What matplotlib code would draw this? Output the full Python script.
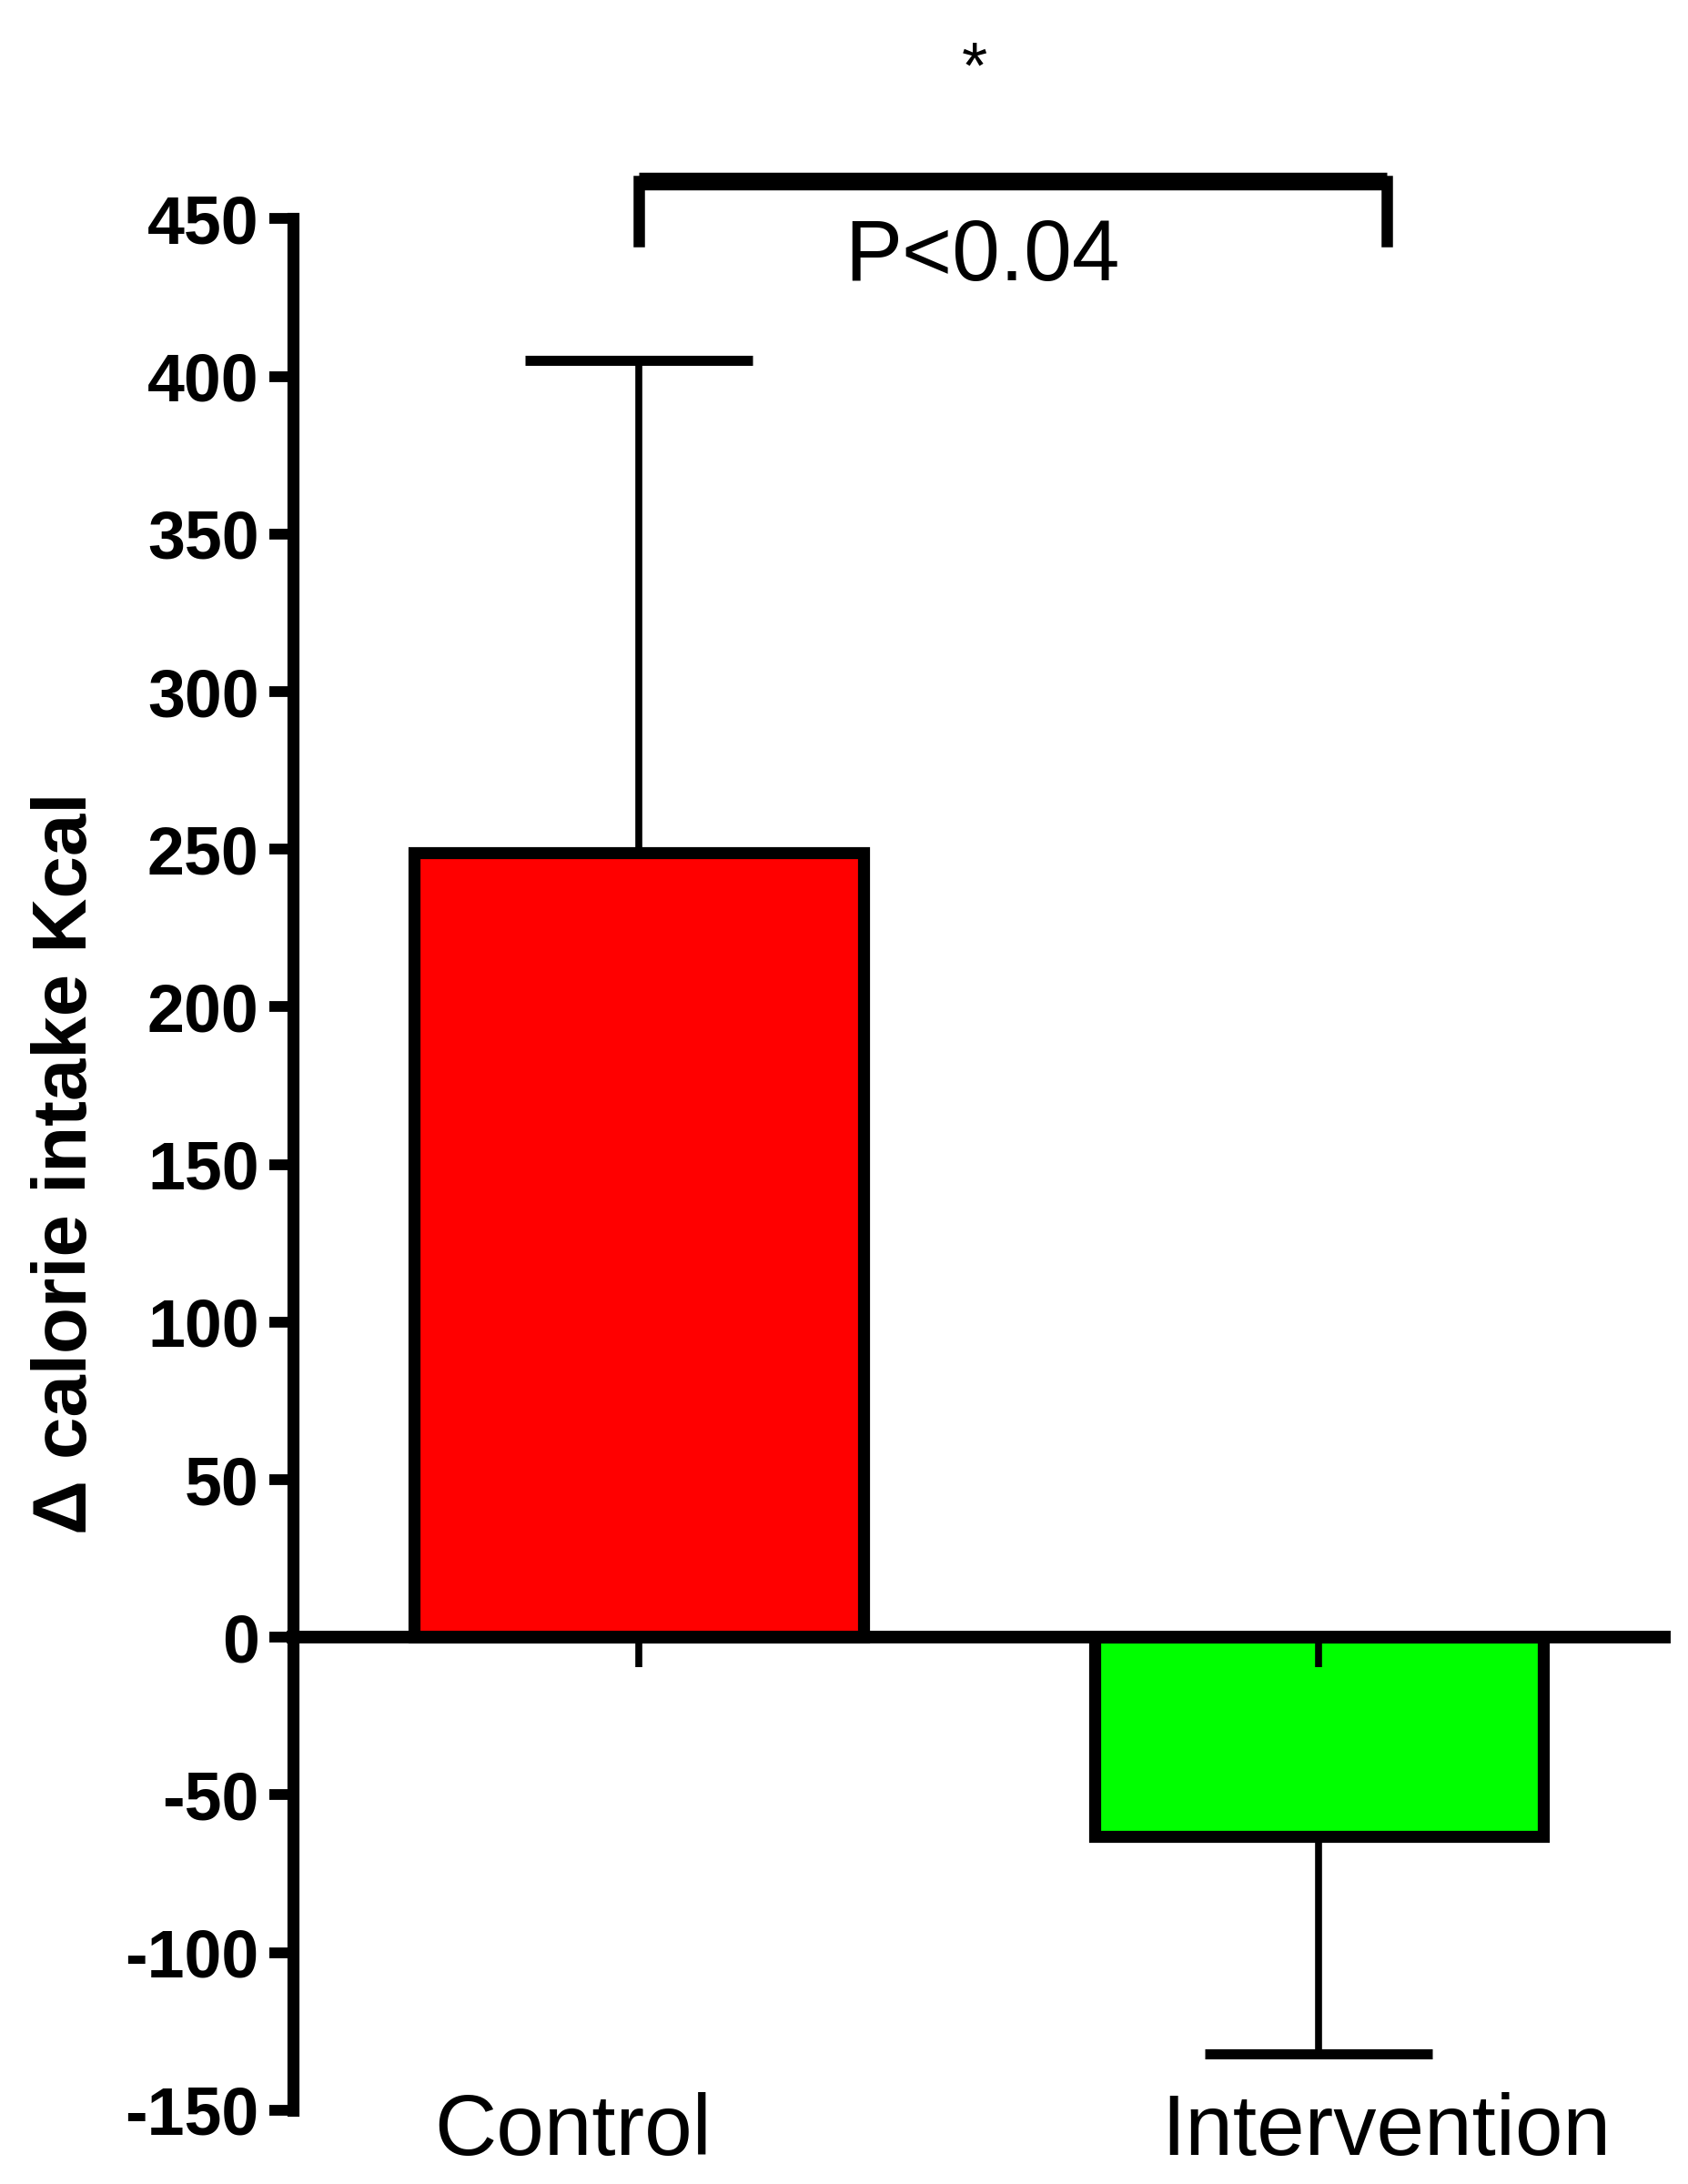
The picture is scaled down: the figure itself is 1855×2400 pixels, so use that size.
import numpy as np
import matplotlib
matplotlib.use("Agg")
import matplotlib.pyplot as plt
import matplotlib.transforms as mtransforms

plt.rcParams['font.family'] = ['Liberation Sans', 'DejaVu Sans']
plt.rcParams['axes.unicode_minus'] = False

groups = ["Control", "Intervention"]
means = [249, -63]
err_up = [156, 0]
err_down = [0, 69]
colors = ["#FF0000", "#00FF00"]
yticks = [-150, -100, -50, 0, 50, 100, 150, 200, 250, 300, 350, 400, 450]
ylabel = "\u0394 calorie intake Kcal"
p_text = "P<0.04"
star = "*"

fig = plt.figure(figsize = (18.55, 24), dpi = 100)
ax = fig.add_axes([0.1736, 0.0338, 0.8125, 0.866])

x = np.arange(len(groups))

# error bars first so the bar covers the inner part
ax.errorbar(x, means, yerr = [err_down, err_up], fmt = 'none', ecolor = 'black',
            elinewidth = 5.5, capsize = 90, capthick = 8, zorder = 1.0)
ax.bar(x, means, width = 0.66, color = colors, edgecolor = 'black', linewidth = 9.5, zorder = 1.1)

ax.set_xlim(-0.508, 1.508)
ax.set_ylim(-150, 450)

ax.spines['top'].set_visible(False)
ax.spines['right'].set_visible(False)
ax.spines['bottom'].set_position(('data', 0))
ax.spines['bottom'].set_linewidth(10)
ax.spines['bottom'].set_zorder(3)
ax.spines['left'].set_linewidth(9.5)

ax.set_yticks(yticks)
ax.set_yticklabels([str(v) for v in yticks], fontsize = 53, fontweight = 'bold')
ax.tick_params(axis = 'y', length = 19, width = 8.5, pad = 8)
ax.set_xticks(x)
ax.set_xticklabels(["", ""])
ax.tick_params(axis = 'x', length = 24, width = 5.5, direction = 'out')
ax.xaxis.set_zorder(2.6)

# category labels below the axes
trans = mtransforms.blended_transform_factory(ax.transData, ax.transAxes)
label_x = [-0.097, 1.099]
for lx, g in zip(label_x, groups):
    ax.text(lx, -0.012, g, transform = trans, ha = 'center', va = 'center', fontsize = 68)

fig.text(73 / 1855, 1 - 1278 / 2400, ylabel, rotation = 90, ha = 'center', va = 'center',
         fontsize = 60, fontweight = 'bold')

# significance bracket
bx = [0.0, 1.10]
ax.plot(bx, [462, 462], color = 'black', linewidth = 14, clip_on = False, solid_capstyle = 'butt')
ax.plot([bx[0], bx[0]], [462, 443], color = 'black', linewidth = 9, clip_on = False)
ax.plot([bx[1], bx[1]], [462, 443], color = 'black', linewidth = 9, clip_on = False)
ax.text(0.505, 437.5, p_text, ha = 'center', va = 'center', fontsize = 68, clip_on = False)
ax.text(0.494, 497, star, ha = 'center', va = 'center', fontsize = 52, clip_on = False)

fig.savefig("out.png", dpi = 100)
